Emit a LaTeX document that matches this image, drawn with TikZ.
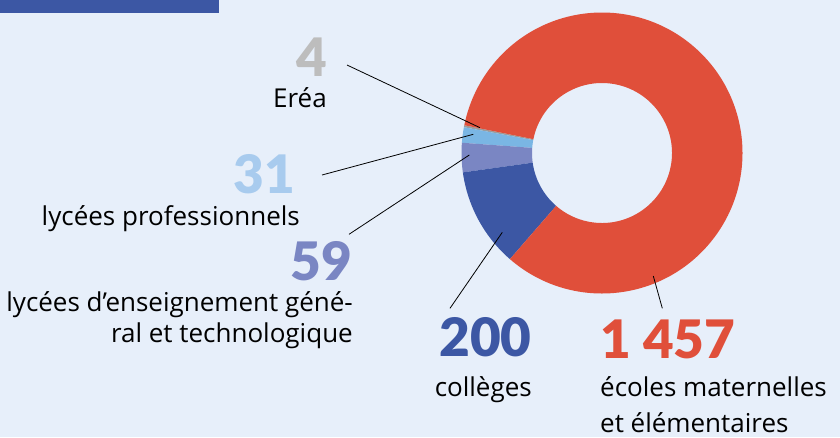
\documentclass[tikz,border=0pt]{standalone}
\usepackage{fontspec}
\setmainfont{Lato}
\newfontfamily\labfont{Open Sans}
\newfontfamily\numfont{Lato Black}
\definecolor{bg}{HTML}{E7EFFA}
\definecolor{navy}{HTML}{3C57A4}
\definecolor{redm}{HTML}{E04F3A}
\definecolor{purp}{HTML}{7A86C3}
\definecolor{lblue}{HTML}{7AB6E4}
\definecolor{lbluetxt}{HTML}{A8CBEE}
\definecolor{greym}{HTML}{BDBDBD}
\definecolor{ereaseg}{HTML}{9C9C9C}
\begin{document}
\begin{tikzpicture}[x=1pt,y=1pt,
  lab/.style={font=\labfont\fontsize{26}{31}\selectfont, inner sep=0pt, text=black},
  num/.style={font=\numfont\fontsize{53}{60}\selectfont, inner sep=0pt},
  conn/.style={draw=black, line width=0.8pt},
  seg/.style={shift={(602,-153)}}]
\useasboundingbox (0,0) rectangle (840,-437);
\fill[bg] (0,0) rectangle (840,-437);
\fill[navy] (0,0) rectangle (219,-12.7);
% donut
\newcommand{\donutseg}[3]{\fill[#3, seg] (#1:140.5) arc[start angle=#1, end angle=#2, radius=140.5] -- (#2:70) arc[start angle=#2, end angle=#1, radius=70] -- cycle;}
\donutseg{168.6}{169.42}{ereaseg}
\donutseg{169.42}{175.80}{lblue}
\donutseg{175.80}{187.93}{purp}
\donutseg{187.93}{229.05}{navy}
\donutseg{229.05}{528.6}{redm}
% labels
\node[num, text=greym, anchor=base east] (n4) at (327,-76) {4};
\node[lab, anchor=base east] (t4) at (327,-107.7) {Eréa};
\node[num, text=lbluetxt, anchor=base east] (n31) at (295,-193) {31};
\node[lab, anchor=base east] (t31) at (300,-225) {lycées professionnels};
\node[num, text=purp, anchor=base east] (n59) at (352.3,-280) {59};
\node[lab, anchor=base east] (t59a) at (353,-311.7) {lycées d’enseignement géné-};
\node[lab, anchor=base east] (t59b) at (353,-342.7) {ral et technologique};
\node[num, text=navy, anchor=base east] (n200) at (531.7,-356.7) {200};
\node[lab, anchor=base east] (t200) at (532,-396) {collèges};
\node[num, text=redm, anchor=base west] (n1457) at (600,-358) {1 457};
\node[lab, anchor=base west] (t1457a) at (600,-396.5) {écoles maternelles};
\node[lab, anchor=base west] (t1457b) at (600,-432) {et élémentaires};
% connectors
\coordinate (s4) at (347,-65);
\coordinate (e4) at (480,-127.7);
\coordinate (s31) at (322,-175);
\coordinate (e31) at (473.3,-134.3);
\coordinate (s59) at (349,-234.3);
\coordinate (e59) at (469.3,-155);
\coordinate (s200) at (450,-308.3);
\coordinate (e200) at (502.3,-232.3);
\coordinate (s1457) at (662.3,-308.3);
\coordinate (e1457) at (653.3,-276);
\draw[conn] (s4) -- (e4);
\draw[conn] (s31) -- (e31);
\draw[conn] (s59) -- (e59);
\draw[conn] (s200) -- (e200);
\draw[conn] (s1457) -- (e1457);
\end{tikzpicture}
\end{document}
